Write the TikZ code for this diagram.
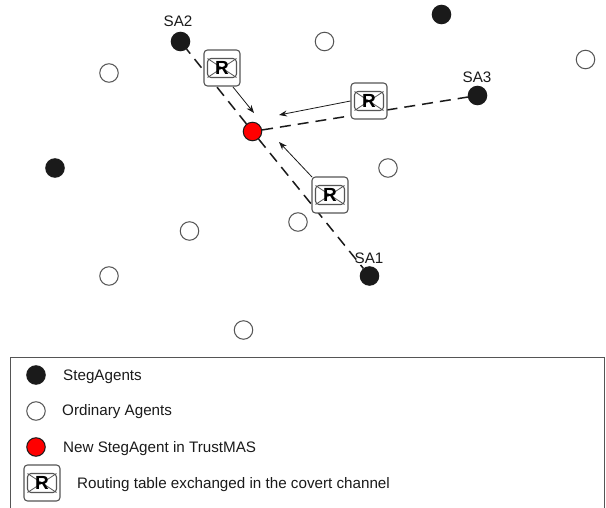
\documentclass[tikz,border=0pt]{standalone}
\usepackage{fontspec}
\setmainfont{Liberation Sans}
\definecolor{ink}{HTML}{1A1A1A}
\definecolor{edgegray}{HTML}{555555}
\tikzset{
  agent/.style={circle,draw=edgegray,line width=1pt,minimum size=18.5pt,inner sep=0pt},
  steg/.style={agent,fill=ink,draw=ink},
  ordinary/.style={agent,fill=white},
  newsteg/.style={agent,fill=red,draw=ink},
  lbl/.style={font=\fontsize{15.2}{17}\selectfont,text=ink,inner sep=0pt},
  legendtext/.style={lbl,anchor=west},
  covert/.style={line width=1.5pt,draw=ink,dash pattern=on 11pt off 7pt},
  flow/.style={-{Stealth[length=8pt,width=6pt]},line width=0.8pt,draw=ink},
  rbox/.style={draw=edgegray,fill=white,rounded corners=3.5pt,line width=1.1pt,minimum size=36pt,inner sep=0pt,
    font=\fontsize{19}{19}\bfseries\selectfont,text=black,
    path picture={
      \draw[edgegray,line width=1.1pt] ([xshift=-14.5pt,yshift=-9.5pt]path picture bounding box.center) rectangle ([xshift=14.5pt,yshift=9.5pt]path picture bounding box.center);
      \draw[edgegray,line width=0.8pt] ([xshift=-14.5pt,yshift=-9.5pt]path picture bounding box.center) -- ([xshift=14.5pt,yshift=9.5pt]path picture bounding box.center);
      \draw[edgegray,line width=0.8pt] ([xshift=-14.5pt,yshift=9.5pt]path picture bounding box.center) -- ([xshift=14.5pt,yshift=-9.5pt]path picture bounding box.center);
    }},
  legendframe/.style={draw=edgegray,line width=0.9pt}
}
\usetikzlibrary{arrows.meta}
\begin{document}
\begin{tikzpicture}[x=1pt,y=-1pt]
\useasboundingbox (0,0) rectangle (606,508);
% agents
\node[steg] (sa2) at (180.5,41.5) {};
\node[steg] (top) at (441.5,14.5) {};
\node[steg] (sa3) at (477.5,95.5) {};
\node[steg] (left) at (55,168) {};
\node[steg] (sa1) at (369.5,276) {};
\node[ordinary] (o1) at (324.5,41.5) {};
\node[ordinary] (o2) at (109,73) {};
\node[ordinary] (o3) at (585.5,59.5) {};
\node[ordinary] (o4) at (388,168) {};
\node[ordinary] (o5) at (298,222) {};
\node[ordinary] (o6) at (189.5,231) {};
\node[ordinary] (o7) at (109,276) {};
\node[ordinary] (o8) at (243.5,330) {};
\node[newsteg] (new) at (252.5,131.5) {};
% covert channels
\draw[covert] (new) -- (sa2);
\draw[covert] (new) -- (sa3);
\draw[covert] (new) -- (sa1);
% routing tables
\node[rbox] (r2) at (222,68) {R};
\node[rbox] (r3) at (369,101) {R};
\node[rbox] (r1) at (330,195) {R};
% flow arrows
\coordinate (a2) at (254,113);
\coordinate (a3) at (279,115);
\coordinate (a1) at (279,142);
\coordinate (s2) at (233,87);
\coordinate (s1) at (312,177);
\draw[flow] (s2) -- (a2);
\draw[flow] (r3.west) -- (a3);
\draw[flow] (s1) -- (a1);
% labels
\node[lbl] (lsa2) at (178,21.5) {SA2};
\node[lbl] (lsa3) at (477,77.5) {SA3};
\node[lbl] (lsa1) at (369,258.5) {SA1};
% legend
\coordinate (f1) at (10,508);
\coordinate (f2) at (10,357);
\coordinate (f3) at (604,357);
\coordinate (f4) at (604,508);
\draw[legendframe] (f1) -- (f2) -- (f3) -- (f4);
\node[steg] (k1) at (36,375) {};
\node[ordinary] (k2) at (36,411) {};
\node[newsteg] (k3) at (36,447) {};
\node[rbox] (k4) at (42,483) {R};
\node[legendtext] (t1) at (63,377) {StegAgents};
\node[legendtext] (t2) at (62,412) {Ordinary Agents};
\node[legendtext] (t3) at (63,448.5) {New StegAgent in TrustMAS};
\node[legendtext] (t4) at (77,484.5) {Routing table exchanged in the covert channel};
\end{tikzpicture}
\end{document}
